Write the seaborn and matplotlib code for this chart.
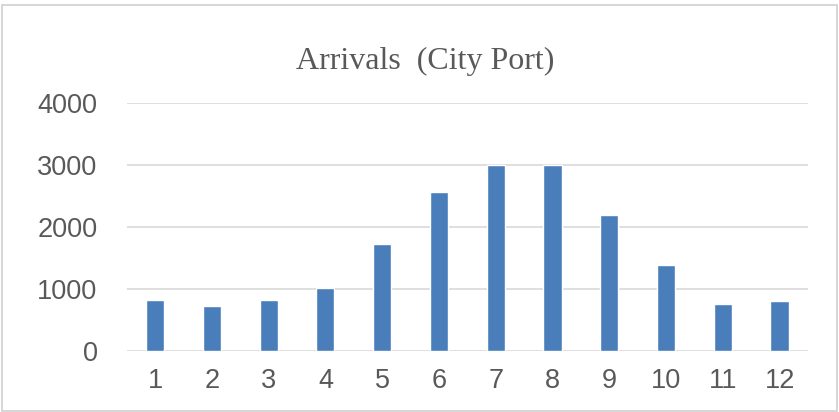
import matplotlib.pyplot as plt
import pandas as pd
import seaborn as sns
from matplotlib.patches import Rectangle

# monthly arrivals
months = ["1", "2", "3", "4", "5", "6", "7", "8", "9", "10", "11", "12"]
arrivals = [820, 730, 820, 1020, 1720, 2560, 3000, 3000, 2190, 1380, 760, 800]
y_ticks = [0, 1000, 2000, 3000, 4000]

df = pd.DataFrame({"month": months, "arrivals": arrivals})

sns.set_style("white")
plt.rcParams["font.family"] = ["Liberation Sans", "DejaVu Sans"]

fig = plt.figure(figsize=(8.39, 4.12), dpi=100)
ax = fig.add_axes([0.151, 0.148, 0.812, 0.602])

sns.barplot(data=df, x="month", y="arrivals", order=months,
            color="#4a7ebb", saturation=1, width=0.32, ax=ax)

ax.set_ylim(0, 4000)
ax.set_xlim(-0.5, len(months) - 0.5)
ax.set_yticks(y_ticks)
ax.yaxis.grid(True, color="#d9d9d9", linewidth=1.2)
ax.set_axisbelow(True)
for s in ax.spines.values():
    s.set_visible(False)
ax.tick_params(axis="both", length=0, labelsize=19.5, labelcolor="#595959")
ax.tick_params(axis="x", pad=12)
ax.tick_params(axis="y", pad=21)
ax.set_xlabel("")
ax.set_ylabel("")

fig.text(0.507, 0.85, "Arrivals  (City Port)", ha="center", va="center",
         fontsize=23, color="#595959", family=["Liberation Serif", "DejaVu Serif"])

# light outer frame like the chart area border
fig.patches.append(Rectangle((0.002, 0.003), 0.996, 0.985, transform=fig.transFigure,
                             fill=False, edgecolor="#d0d0d0", linewidth=1.2))

fig.savefig("out.png", dpi=100)
